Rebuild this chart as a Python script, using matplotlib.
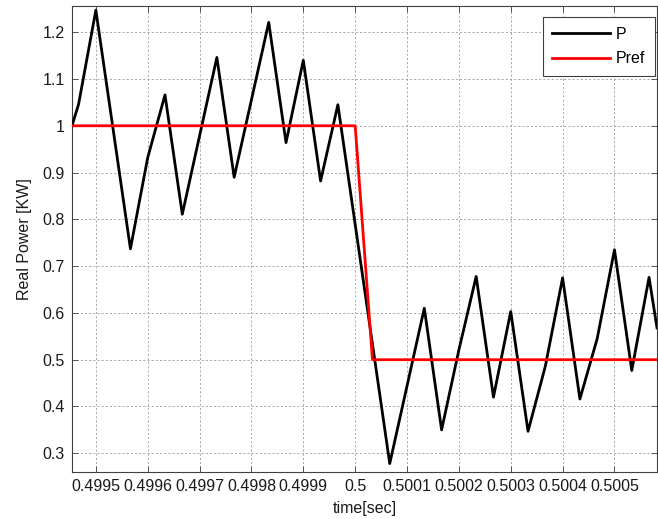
import matplotlib
matplotlib.use("Agg")
import matplotlib.pyplot as plt
from matplotlib.ticker import FuncFormatter

plt.rcParams['font.family'] = ['Liberation Sans', 'DejaVu Sans']

# Measured real power (vertices of the sampled trace)
t_p = [0.499454, 0.49946667, 0.4995, 0.49956667, 0.4996, 0.49963333,
       0.49966667, 0.49973333, 0.49976667, 0.49983333, 0.49986667,
       0.4999, 0.49993333, 0.49996667, 0.50006667, 0.50013333,
       0.50016667, 0.5002, 0.50023333, 0.50026667, 0.5003, 0.50033333,
       0.50036667, 0.5004, 0.50043333, 0.50046667, 0.5005, 0.50053333,
       0.50056667, 0.500582]
p_vals = [1.0, 1.046, 1.247, 0.737, 0.932, 1.066,
          0.811, 1.146, 0.890, 1.221, 0.964,
          1.140, 0.882, 1.045, 0.278, 0.610,
          0.350, 0.521, 0.678, 0.420, 0.603, 0.347,
          0.486, 0.675, 0.416, 0.545, 0.735, 0.477,
          0.676, 0.568]

# Reference power step
t_ref = [0.499454, 0.5, 0.50003333, 0.500582]
pref_vals = [1.0, 1.0, 0.5, 0.5]

x_ticks = [0.4995, 0.4996, 0.4997, 0.4998, 0.4999, 0.5,
           0.5001, 0.5002, 0.5003, 0.5004, 0.5005]
y_ticks = [0.3, 0.4, 0.5, 0.6, 0.7, 0.8, 0.9, 1.0, 1.1, 1.2]

fig = plt.figure(figsize=(6.58, 5.19), dpi=100)
ax = fig.add_axes([72 / 658, 1 - 472 / 519, 585 / 658, 466 / 519])

ax.plot(t_p, p_vals, color='black', lw=2.0, label='P', zorder=3)
ax.plot(t_ref, pref_vals, color='#ff0000', lw=2.0, label='Pref', zorder=4)

ax.set_xlim(0.499454, 0.500582)
ax.set_ylim(0.26, 1.256)
ax.set_xticks(x_ticks)
ax.set_yticks(y_ticks)
fmt = FuncFormatter(lambda v, pos: '%g' % round(v, 6))
ax.xaxis.set_major_formatter(fmt)
ax.yaxis.set_major_formatter(fmt)

ax.grid(True, color='#9a9a9a', linestyle=(0, (2.5, 2.5)), linewidth=0.6)
ax.set_axisbelow(True)

ax.tick_params(direction='in', top=True, right=True, length=4, width=0.6,
               color='#404040', labelsize=11.5, labelcolor='#1a1a1a', pad=5)
for s in ax.spines.values():
    s.set_color('#404040')
    s.set_linewidth(0.8)

ax.set_xlabel('time[sec]', fontsize=11.5, color='#1a1a1a', labelpad=5)
ax.set_ylabel('Real Power [KW]', fontsize=11.5, color='#1a1a1a', labelpad=8)

leg = ax.legend(loc='upper right', bbox_to_anchor=(0.9966, 0.9764),
                borderaxespad=0, fancybox=False, framealpha=1,
                edgecolor='#404040', fontsize=11.5, handlelength=3.6,
                handletextpad=0.4, labelspacing=0.6, borderpad=0.6)
leg.get_frame().set_linewidth(0.8)

fig.savefig('out.png', dpi=100)
